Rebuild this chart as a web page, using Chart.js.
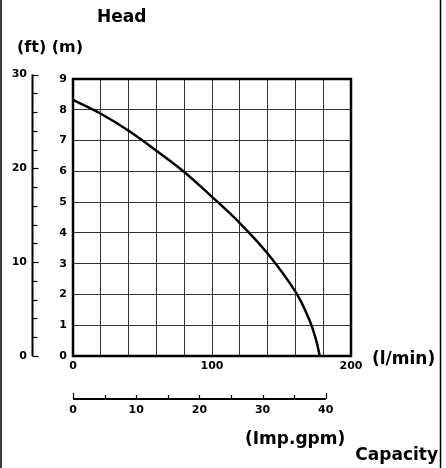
<!DOCTYPE html>
<html>
<head>
<meta charset="utf-8">
<script src="https://cdn.jsdelivr.net/npm/chart.js@4/dist/chart.umd.min.js"></script>
<style>
html,body{margin:0;padding:0;background:#fff;}
canvas{display:block;}
</style>
</head>
<body>
<canvas id="c" width="446" height="468"></canvas>
<script>
// Data
const flowLpm = [0, 20, 40, 60, 80, 100, 120, 140, 160, 170, 175, 177.5];
const headM   = [8.32, 7.87, 7.32, 6.67, 5.98, 5.17, 4.32, 3.33, 2.09, 1.18, 0.5, 0];
const ftLabels = [0, 10, 20, 30];
const ftMinorStep = 2;
const gpmLabels = [0, 10, 20, 30, 40];
const gpmMinorStep = 5;
const FT_TO_M = 0.3048;
const GPM_TO_LPM = 4.54609;

const tickFont = {family: 'DejaVu Sans', weight: 'bold', size: 11};
const titleFont = 'bold 17px "DejaVu Sans"';

const extras = {
  id: 'extras',
  afterDraw(chart) {
    const ctx = chart.ctx;
    const ca = chart.chartArea;
    const xs = chart.scales.x, ys = chart.scales.y;
    ctx.save();
    // plot frame
    ctx.strokeStyle = '#000';
    ctx.lineWidth = 2.5;
    ctx.strokeRect(ca.left, ca.top, ca.right - ca.left, ca.bottom - ca.top);

    // feet axis
    const fx = 32.5;
    const ftMax = ftLabels[ftLabels.length - 1];
    ctx.lineWidth = 2;
    ctx.beginPath();
    ctx.moveTo(fx, ys.getPixelForValue(ftMax * FT_TO_M));
    ctx.lineTo(fx, ys.getPixelForValue(0));
    ctx.stroke();
    ctx.lineWidth = 1.2;
    for (let f = 0; f <= ftMax; f += ftMinorStep) {
      const y = Math.round(ys.getPixelForValue(f * FT_TO_M)) + 0.5;
      const major = ftLabels.includes(f);
      ctx.beginPath();
      ctx.moveTo(fx, y);
      ctx.lineTo(fx + (major ? 6 : 5), y);
      ctx.stroke();
    }
    ctx.fillStyle = '#000';
    ctx.font = 'bold 11px "DejaVu Sans"';
    ctx.textAlign = 'right';
    ctx.textBaseline = 'middle';
    ftLabels.forEach(f => {
      ctx.fillText(String(f), 27, ys.getPixelForValue(f * FT_TO_M));
    });

    // gpm axis
    const gy = 399;
    const gMax = gpmLabels[gpmLabels.length - 1];
    ctx.lineWidth = 2;
    ctx.beginPath();
    ctx.moveTo(xs.getPixelForValue(0), gy);
    ctx.lineTo(xs.getPixelForValue(gMax * GPM_TO_LPM), gy);
    ctx.stroke();
    ctx.lineWidth = 1.2;
    for (let g = 0; g <= gMax; g += gpmMinorStep) {
      const x = Math.round(xs.getPixelForValue(g * GPM_TO_LPM)) + 0.5;
      const end = (g === 0 || g === gMax);
      ctx.beginPath();
      ctx.moveTo(x, gy);
      ctx.lineTo(x, gy - (end ? 6 : 4));
      ctx.stroke();
    }
    ctx.textAlign = 'center';
    gpmLabels.forEach(g => {
      ctx.fillText(String(g), xs.getPixelForValue(g * GPM_TO_LPM), 410);
    });

    // titles
    ctx.font = titleFont;
    ctx.textAlign = 'left';
    ctx.fillText('Head', 97, 18);
    ctx.font = 'bold 16px "DejaVu Sans"';
    ctx.fillText('(ft) (m)', 17, 48);
    ctx.font = titleFont;
    ctx.fillText('(l/min)', 372, 360);
    ctx.fillText('(Imp.gpm)', 245, 440);
    ctx.textAlign = 'right';
    ctx.fillText('Capacity', 438, 456);

    // page border lines
    ctx.lineWidth = 1.5;
    ctx.beginPath();
    ctx.moveTo(1, 0); ctx.lineTo(1, 468);
    ctx.moveTo(440.5, 0); ctx.lineTo(440.5, 468);
    ctx.stroke();
    ctx.restore();
  }
};

new Chart(document.getElementById('c'), {
  type: 'line',
  data: {
    datasets: [{
      data: flowLpm.map((x, i) => ({x: x, y: headM[i]})),
      borderColor: '#000',
      borderWidth: 2.5,
      pointRadius: 0,
      fill: false,
      tension: 0.4
    }]
  },
  options: {
    responsive: false,
    animation: false,
    devicePixelRatio: 1,
    layout: {padding: {left: 53, right: 95, top: 79, bottom: 92}},
    plugins: {legend: {display: false}, tooltip: {enabled: false}},
    scales: {
      x: {
        type: 'linear', min: 0, max: 200,
        afterFit(s) { s.height = 20; },
        ticks: {
          stepSize: 20, autoSkip: false, maxRotation: 0, padding: 4,
          color: '#000', font: tickFont,
          callback: v => (v % 100 === 0 ? String(v) : '')
        },
        grid: {color: '#333', lineWidth: 1, drawTicks: false},
        border: {display: false}
      },
      y: {
        type: 'linear', min: 0, max: 9,
        afterFit(s) { s.width = 20; },
        ticks: {stepSize: 1, padding: 6, color: '#000', font: tickFont},
        grid: {color: '#333', lineWidth: 1, drawTicks: false},
        border: {display: false}
      }
    }
  },
  plugins: [extras]
});
</script>
</body>
</html>
